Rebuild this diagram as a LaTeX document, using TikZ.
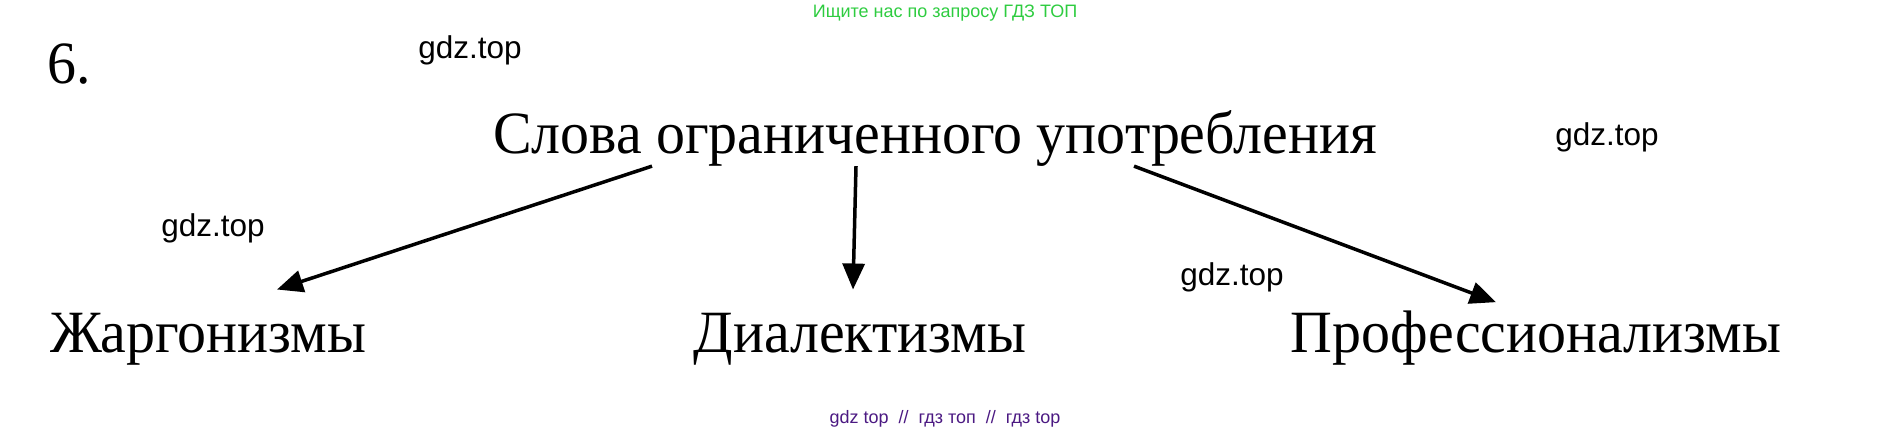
\documentclass[tikz,border=0pt]{standalone}
\usepackage{fontspec}
\setmainfont[FakeStretch=0.965]{Liberation Serif}
\newfontfamily\marksans{Liberation Sans}
\usetikzlibrary{arrows.meta}

\definecolor{markgreen}{RGB}{46,204,64}
\definecolor{markviolet}{RGB}{75,25,130}

\begin{document}
\begin{tikzpicture}[x=1pt, y=-1pt,
    every node/.style = { inner sep = 0pt, anchor = base },
    term/.style = { font = \fontsize{60}{72}\selectfont },
    gdzmark/.style = { font = \marksans\fontsize{31.5}{38}\selectfont },
    link/.style = { line width = 3.5pt, -{Triangle[length=26pt, width=22pt]} }]
  \useasboundingbox (0,0) rectangle (1892,431);

  \node [text = markgreen, font = \marksans\fontsize{18}{22}\selectfont] (top) at (945,17) { Ищите нас по запросу ГДЗ ТОП };
  \node [term, anchor = base west] (num) at (47,83) { 6. };
  \node [term] (title) at (935,153) { Слова ограниченного употребления };

  \node [term] (jarg) at (208,352) { Жаргонизмы };
  \node [term] (dial) at (860,352) { Диалектизмы };
  \node [term] (prof) at (1536,352) { Профессионализмы };

  \node [gdzmark] (g1) at (470,58) { gdz.top };
  \node [gdzmark] (g2) at (1607,145) { gdz.top };
  \node [gdzmark] (g3) at (213,236) { gdz.top };
  \node [gdzmark] (g4) at (1232,285) { gdz.top };

  \node [text = markviolet, font = \marksans\fontsize{18}{21}\selectfont] (bottom) at (945,423) { gdz top \ // \ гдз топ \ // \ гдз top };

  % arrows
  \draw [link] ([xshift = -283pt]title.south) -- ([xshift = 69pt, yshift = 23pt]jarg.north);
  \draw [link] ([xshift = -79pt]title.south) -- ([xshift = -7pt, yshift = 23pt]dial.north);
  \draw [link] ([xshift = 199pt]title.south) -- ([xshift = -40pt, yshift = 8pt]prof.north);
\end{tikzpicture}
\end{document}
